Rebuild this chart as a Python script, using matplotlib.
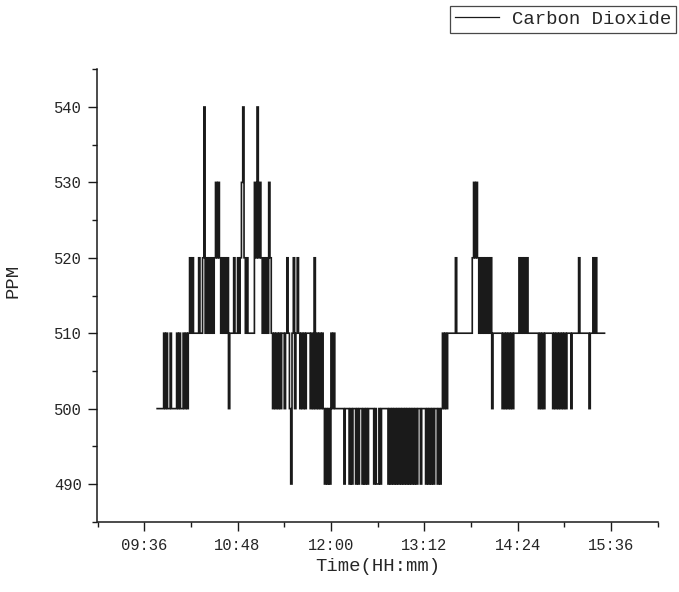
import datetime as dt
import matplotlib
matplotlib.use("Agg")
import matplotlib.pyplot as plt
import matplotlib.dates as mdates
from matplotlib.ticker import FixedLocator

# CO2 readings in ppm, one reading per minute, grouped by hour.
# Each group starts at the time given in start_times.
start_times = ["09:46", "10:00", "11:00", "12:00", "13:00", "14:00", "15:00"]

ppm_09 = [500, 500, 500, 500, 500, 510, 500, 510, 500, 500, 510, 500, 500, 500]

ppm_10 = [500,
          510, 500, 510, 500, 500,
          510, 500, 510, 500, 510,
          520, 510, 520, 510,
          510, 510, 510,
          520, 510, 510,
          520, 540, 510, 520, 510, 520, 510, 520, 510, 520,
          530, 520, 530, 520, 510,
          520, 510, 520, 510, 520, 500, 510, 510, 510,
          520, 510, 510, 520, 510,
          520, 530, 540, 520, 510, 520, 510, 510, 510, 510]

ppm_11 = [510, 530, 520, 540, 520, 530, 520, 510, 520, 510, 520, 510, 530, 520, 510,
          500, 510, 500, 510, 500, 510, 500, 510, 510, 500, 510, 520, 510, 500, 490,
          510, 520, 500, 510, 520, 510, 500, 510, 500, 510, 500, 510, 510, 510, 500,
          510, 500, 520, 500, 510, 500, 510, 500, 510, 500, 490, 500, 490, 500, 490]

ppm_12 = [510, 500, 510, 500,
          500, 500, 500, 500, 500, 500,
          490, 500, 500, 500,
          490, 500, 490, 500,
          500,
          490, 500, 490, 500,
          500,
          490, 500, 490, 500, 490, 500, 500, 500, 500, 490, 500, 490,
          490, 500, 490, 500,
          500, 500, 500, 500,
          490, 500, 490, 500, 490, 500, 490, 500, 490, 500, 490, 500, 490, 500, 490, 500]

ppm_13 = [490, 500, 490, 500, 490, 500, 490, 500, 500, 490, 500, 500, 500, 490, 500, 490, 500, 490, 500, 490,
          500, 500, 490, 500, 490, 500, 510, 500, 510, 500, 510, 510, 510, 510, 510, 510, 520, 510, 510, 510,
          510, 510, 510, 510, 510, 510, 510, 510, 510, 520, 530, 520, 530, 520, 510, 520, 510, 520, 510, 520]

ppm_14 = [510, 520, 510, 520, 500, 510, 510, 510, 510, 510, 510, 510,
          500, 510, 500, 510, 500, 510, 500, 510, 500, 510,
          510, 510, 510,
          520, 510, 520, 510, 520, 510, 520, 510,
          510, 510, 510, 510, 510, 510, 510,
          500, 510, 500, 510, 500, 510,
          510, 510, 510, 510, 510,
          500, 510, 500, 510, 500, 510, 500, 510, 500]

ppm_15 = [510, 500, 510, 510, 510, 500, 510, 510, 510, 510, 510, 520, 510, 510, 510, 510,
          510, 510, 510, 500, 510, 510, 520, 510, 520, 510, 510, 510, 510, 510, 510, 510]

x_tick_labels = ["09:36", "10:48", "12:00", "13:12", "14:24", "15:36"]
x_range = ("09:00", "16:12")
y_ticks = [490, 500, 510, 520, 530, 540]
y_range = (485, 545)

day = dt.date(2021, 6, 1)


def at(hhmm):
    h, m = map(int, hhmm.split(":"))
    return dt.datetime.combine(day, dt.time(h, m))


times, values = [], []
for start, group in zip(start_times,
                        [ppm_09, ppm_10, ppm_11, ppm_12, ppm_13, ppm_14, ppm_15]):
    t0 = at(start)
    for i, v in enumerate(group):
        times.append(t0 + dt.timedelta(minutes=i))
        values.append(v)

plt.rcParams["font.family"] = ["Liberation Mono", "DejaVu Sans Mono"]
text_color = "#262626"

fig = plt.figure(figsize=(6.79, 5.92), dpi=100)
ax = fig.add_axes([97.5 / 679, 1 - 521.7 / 592, (657.7 - 97.5) / 679, (521.7 - 69.3) / 592])

line, = ax.plot(times, values, drawstyle="steps-post", color="#1a1a1a",
                lw=1.2, solid_joinstyle="miter", label="Carbon Dioxide")
line.set_snap(False)

ax.set_xlim(at(x_range[0]), at(x_range[1]))
ax.set_ylim(*y_range)

# major ticks every 72 minutes, minor ticks halfway between
major_x = [mdates.date2num(at(s)) for s in x_tick_labels]
step = major_x[1] - major_x[0]
minor_x = [major_x[0] - step / 2] + [v + step / 2 for v in major_x]
ax.xaxis.set_major_locator(FixedLocator(major_x))
ax.xaxis.set_minor_locator(FixedLocator(minor_x))
ax.xaxis.set_major_formatter(mdates.DateFormatter("%H:%M"))

ax.yaxis.set_major_locator(FixedLocator(y_ticks))
ax.yaxis.set_minor_locator(FixedLocator([v - 5 for v in y_ticks] + [y_ticks[-1] + 5]))

for side in ("top", "right"):
    ax.spines[side].set_visible(False)
for side in ("left", "bottom"):
    ax.spines[side].set_linewidth(1.1)
    ax.spines[side].set_color("#1a1a1a")

ax.tick_params(which="major", direction="out", length=6.5, width=1.0,
               color="#1a1a1a", labelsize=11.2, labelcolor=text_color, pad=5)
ax.tick_params(which="minor", direction="out", length=3.6, width=1.0, color="#1a1a1a")

ax.set_xlabel("Time(HH:mm)", fontsize=13.6, color=text_color, labelpad=4)
ax.set_ylabel("PPM", fontsize=13.6, color=text_color)
ax.yaxis.set_label_coords(-0.135, 0.532)

leg = fig.legend(handles=[line], loc="upper right",
                 bbox_to_anchor=(676 / 679, 1 - 6 / 592), borderaxespad=0,
                 fontsize=13.7, frameon=True, fancybox=False,
                 handlelength=2.3, handletextpad=0.7, borderpad=0.25,
                 labelcolor=text_color)
leg.get_frame().set_edgecolor("#1a1a1a")
leg.get_frame().set_linewidth(0.9)
leg.get_lines()[0].set_linewidth(0.9)

fig.savefig("out.png", dpi=100)
